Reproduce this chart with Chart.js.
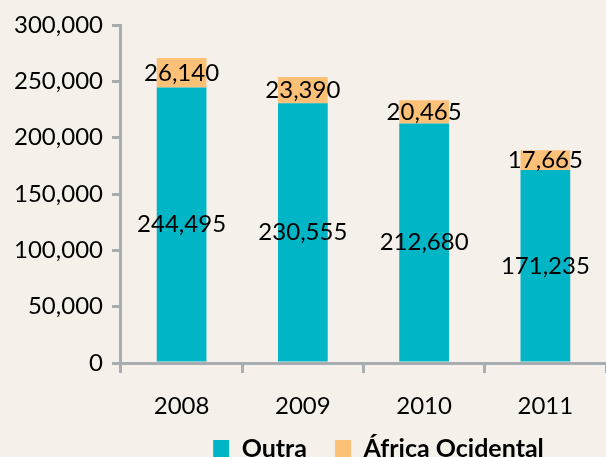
<!DOCTYPE html>
<html>
<head>
<meta charset="utf-8">
<script src="https://cdn.jsdelivr.net/npm/chart.js@4"></script>
<style>
  html, body { margin: 0; padding: 0; background: #f6f0ea; }
  #wrap { width: 606px; height: 457px; }
</style>
</head>
<body>
<div id="wrap"><canvas id="chart"></canvas></div>
<script>
const years = ['2008', '2009', '2010', '2011'];
const outra = [244495, 230555, 212680, 171235];
const africaOcidental = [26140, 23390, 20465, 17665];
const seriesNames = ['Outra', 'África Ocidental'];

const FONT = 'Lato, "Liberation Sans", sans-serif';
const axisGrey = '#a7adb0';

// draw the value in the middle of each bar segment
const barLabels = {
    id: 'barLabels',
    afterDatasetsDraw(chart) {
        const ctx = chart.ctx;
        ctx.save();
        ctx.font = '24px ' + FONT;
        ctx.fillStyle = '#000';
        ctx.textAlign = 'center';
        ctx.textBaseline = 'middle';
        chart.data.datasets.forEach((ds, i) => {
            chart.getDatasetMeta(i).data.forEach((bar, j) => {
                const y = (bar.y + bar.base) / 2;
                ctx.fillText(ds.data[j].toLocaleString('en-US'), bar.x, y);
            });
        });
        ctx.restore();
    }
};

// legend in the original sits right of centre and tight under the years
const legendShift = {
    id: 'legendShift',
    afterLayout(chart) {
        const lg = chart.legend;
        lg.left += 73;
        lg.right += 73;
        lg.top -= 31;
        lg.bottom -= 31;
    }
};

new Chart(document.getElementById('chart'), {
    type: 'bar',
    data: {
        labels: years,
        datasets: [{
            label: seriesNames[0],
            data: outra,
            backgroundColor: '#00b5c5'
        }, {
            label: seriesNames[1],
            data: africaOcidental,
            backgroundColor: '#fcc177'
        }]
    },
    options: {
        responsive: true,
        maintainAspectRatio: false,
        animation: false,
        layout: { padding: { left: 5, top: 25, right: 0, bottom: -45 } },
        datasets: { bar: { barPercentage: 0.41, categoryPercentage: 1 } },
        plugins: {
            tooltip: { enabled: false },
            legend: {
                position: 'bottom',
                labels: {
                    color: '#000',
                    font: { family: FONT, size: 25, weight: 'bold' },
                    boxWidth: 16,
                    boxHeight: 17,
                    padding: 28
                }
            }
        },
        scales: {
            x: {
                stacked: true,
                border: { color: axisGrey, width: 3 },
                grid: { offset: true, drawOnChartArea: false, drawTicks: true, tickLength: 10, color: axisGrey, lineWidth: 3 },
                ticks: { color: '#000', font: { family: FONT, size: 24, lineHeight: 1 }, padding: 21 }
            },
            y: {
                stacked: true,
                min: 0,
                max: 300000,
                border: { color: axisGrey, width: 3 },
                grid: { drawOnChartArea: false, drawTicks: true, tickLength: 9, color: axisGrey, lineWidth: 3 },
                ticks: {
                    stepSize: 50000,
                    color: '#000',
                    font: { family: FONT, size: 24 },
                    padding: 9,
                    callback: v => v.toLocaleString('en-US')
                }
            }
        }
    },
    plugins: [barLabels, legendShift]
});
</script>
</body>
</html>
